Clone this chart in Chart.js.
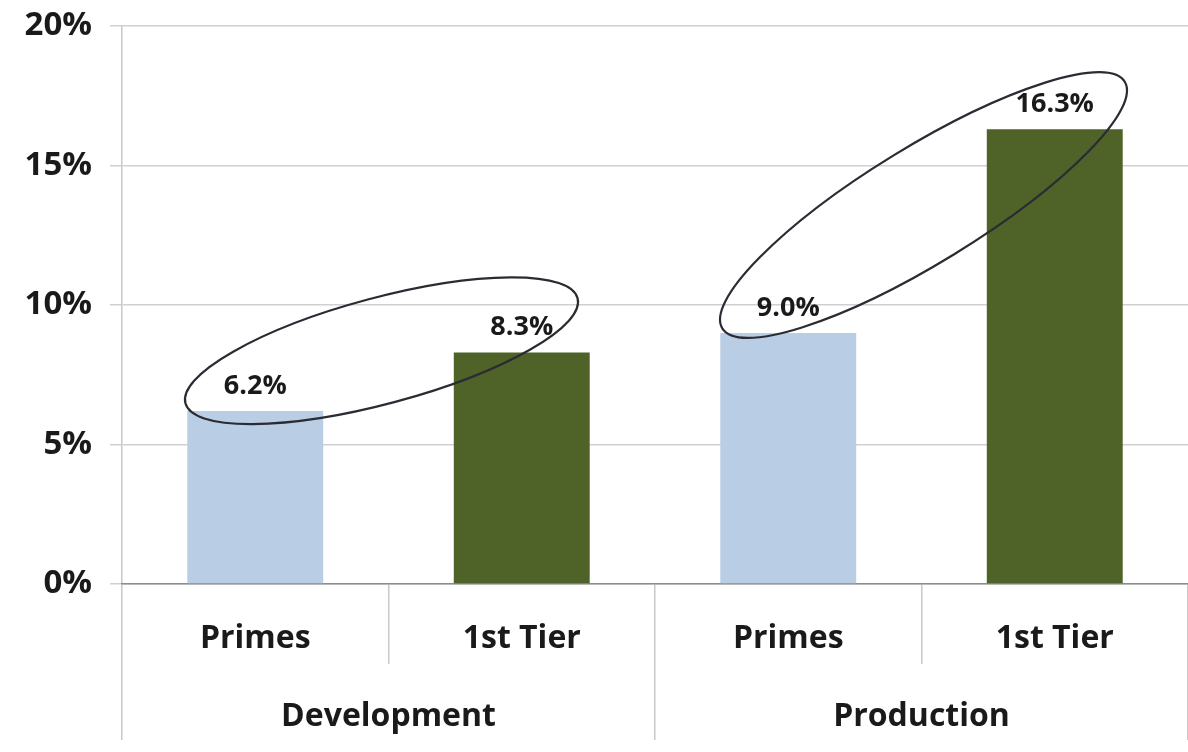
<!DOCTYPE html>
<html>
<head>
<meta charset="utf-8">
<script src="https://cdn.jsdelivr.net/npm/chart.js@4/dist/chart.umd.min.js"></script>
<style>
  html, body { margin: 0; padding: 0; background: #fff; }
  #wrap { width: 1188px; height: 752px; }
</style>
</head>
<body>
<div id="wrap"><canvas id="chart" width="1188" height="752"></canvas></div>
<script>
// ---------- data ----------
const groups = ["Development", "Production"];
const subLabels = ["Primes", "1st Tier", "Primes", "1st Tier"];
const values = [6.2, 8.3, 9.0, 16.3];
const yTicks = [0, 5, 10, 15, 20];

const barColors = ["#b9cde5", "#4f6228", "#b9cde5", "#4f6228"];
const FONT = "'Open Sans', Lato, sans-serif";

// value labels above each bar
const valueLabels = {
  id: "valueLabels",
  afterDatasetsDraw(chart) {
    const ctx = chart.ctx;
    const meta = chart.getDatasetMeta(0);
    ctx.save();
    ctx.font = "bold 27px " + FONT;
    ctx.fillStyle = "#1a1a1a";
    ctx.textAlign = "center";
    ctx.textBaseline = "middle";
    meta.data.forEach((bar, i) => {
      ctx.fillText(values[i].toFixed(1) + "%", bar.x, bar.y - 25);
    });
    ctx.restore();
  }
};

// hand-drawn style ellipses around each pair of labels
const pairEllipses = {
  id: "pairEllipses",
  afterDraw(chart) {
    const ctx = chart.ctx;
    const meta = chart.getDatasetMeta(0);
    const rings = [
      { a: 0, b: 1, rx: 203, ry: 53, angle: -15, dx: -7, dy: -31 },
      { a: 2, b: 3, rx: 236, ry: 58, angle: -31.5, dx: 2, dy: -26 }
    ];
    ctx.save();
    ctx.strokeStyle = "#2b2b33";
    ctx.lineWidth = 2.2;
    rings.forEach(r => {
      const p = meta.data[r.a], q = meta.data[r.b];
      const cx = (p.x + q.x) / 2 + r.dx;
      const cy = (p.y + q.y) / 2 + r.dy;
      ctx.beginPath();
      ctx.ellipse(cx, cy, r.rx, r.ry, r.angle * Math.PI / 180, 0, Math.PI * 2);
      ctx.stroke();
    });
    ctx.restore();
  }
};

new Chart(document.getElementById("chart"), {
  type: "bar",
  data: {
    labels: subLabels,
    datasets: [{
      data: values,
      backgroundColor: barColors,
      borderWidth: 0,
      categoryPercentage: 1,
      barPercentage: 0.51
    }]
  },
  options: {
    responsive: false,
    animation: false,
    layout: { padding: { top: 26, right: 0, left: 0, bottom: 0 } },
    plugins: { legend: { display: false }, tooltip: { enabled: false } },
    scales: {
      y: {
        min: 0,
        max: 20,
        afterBuildTicks: s => { s.ticks = yTicks.map(v => ({ value: v })); },
        afterFit: s => { s.width = 122; s.paddingTop = 0; s.paddingBottom = 0; },
        ticks: {
          padding: 18,
          color: "#1a1a1a",
          font: { family: FONT, size: 33, weight: "bold" },
          callback: v => v + "%"
        },
        grid: { color: "#d0d0d0", lineWidth: 1.5, tickLength: 12 },
        border: { color: "#c8c8c8", width: 1.5 }
      },
      x: {
        position: "bottom",
        afterFit: s => { s.height = 80; },
        ticks: {
          padding: -44,
          color: "#1a1a1a",
          font: { family: FONT, size: 32, weight: "bold" }
        },
        grid: {
          offset: true,
          drawOnChartArea: false,
          tickLength: 80,
          color: "#c8c8c8",
          lineWidth: 1.5
        },
        border: { color: "#8c8c8c", width: 1.5 }
      },
      x2: {
        type: "category",
        position: "bottom",
        labels: groups,
        afterFit: s => { s.height = 88; },
        ticks: {
          padding: -42,
          color: "#1a1a1a",
          font: { family: FONT, size: 32, weight: "bold" }
        },
        grid: {
          offset: true,
          drawOnChartArea: false,
          tickLength: 76,
          color: "#c8c8c8",
          lineWidth: 1.5
        },
        border: { display: false }
      }
    }
  },
  plugins: [valueLabels, pairEllipses]
});
</script>
</body>
</html>
